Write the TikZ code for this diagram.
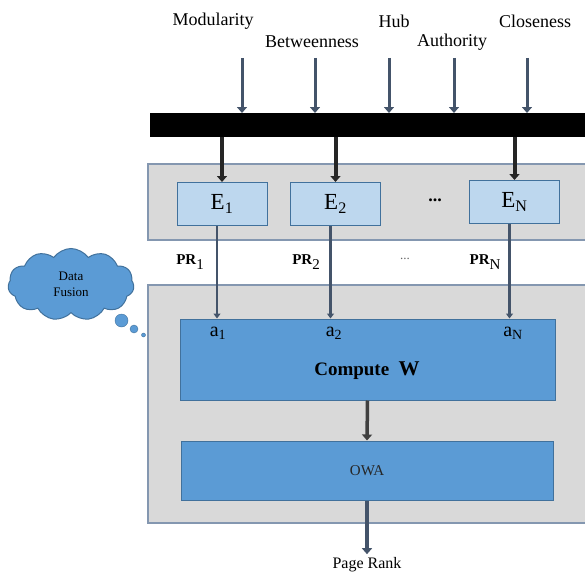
\documentclass[tikz,border=0pt]{standalone}
\usepackage{fontspec}
\setmainfont{Liberation Serif}
\usetikzlibrary{shapes.symbols}
\usetikzlibrary{arrows.meta}

\definecolor{panelgray}{HTML}{D9D9D9}
\definecolor{panelline}{HTML}{8497B0}
\definecolor{lightblue}{HTML}{BDD7EE}
\definecolor{midblue}{HTML}{5B9BD5}
\definecolor{boxline}{HTML}{41719C}
\definecolor{slate}{HTML}{44546A}

\begin{document}
\begin{tikzpicture}[x=1pt, y=-1pt,
  panel/.style={draw=panelline, fill=panelgray, line width=1.2pt},
  ebox/.style={draw=boxline, fill=lightblue, line width=1pt, minimum width=90pt, minimum height=43pt, font=\fontsize{23}{25}\selectfont},
  wbox/.style={draw=boxline, fill=midblue, line width=1pt},
  inlabel/.style={font=\fontsize{18}{20}\selectfont},
  prlabel/.style={font=\bfseries\fontsize{15}{17}\selectfont},
  inarrow/.style={slate, line width=3pt, -{Triangle[length=6,width=10]}},
  feed/.style={black!85, line width=4pt, -{Triangle[length=6,width=10]}},
  prline/.style={slate, line width=2.2pt, -{Triangle[length=5,width=7]}}]
\useasboundingbox (0,0) rectangle (585,575);

\draw[panel] (148,164) rectangle (592,240);
\draw[panel] (148,285) rectangle (592,523);
\node[fill=black, inner sep=0, minimum width=440pt, minimum height=24pt, anchor=north west] (bar) at (150,113) {};

\node[inlabel] (mod) at (213,21) {Modularity};
\node[inlabel] (bet) at (312,42) {Betweenness};
\node[inlabel] (hub) at (394,21) {Hub};
\node[inlabel] (aut) at (452,42) {Authority};
\node[inlabel] (clo) at (535,21) {Closeness};
\foreach\x [count=\i] in {242,315,389,454,527}{
  \coordinate (in\i) at (\x,58);
  \draw[inarrow] (in\i) -- (in\i |- bar.north);
}

\node[ebox] (e1) at (222,204) {E\textsubscript{1}};
\node[ebox] (e2) at (335.5,204) {E\textsubscript{2}};
\node[ebox] (eN) at (514.5,202) {E\textsubscript{N}};
\node[font=\bfseries\fontsize{18}{20}\selectfont] (edots) at (435,200) {...};
\foreach\e in {e1,e2,eN}
  \draw[feed] (\e |- bar.south) -- (\e.north);

\node[wbox, minimum width=375pt, minimum height=81pt] (cw) at (367.5,359.5) {};
\node[font=\bfseries\fontsize{19}{21}\selectfont] (cwtext) at (367,371) {Compute\enspace{\fontsize{21}{23}\selectfont W}};
\node[wbox, minimum width=372pt, minimum height=59pt, text=black!85, font=\fontsize{15}{17}\selectfont] (owa) at (367,470.5) {OWA};

\foreach\e/\a/\ax/\sub in {e1/a1/218/1,e2/a2/334/2,eN/aN/513/N}{
  \node[font=\fontsize{20}{22}\selectfont] (\a) at (\ax,333) {a\textsubscript{\sub}};
  \draw[prline] ([xshift=-5pt]\e.south) -- ([xshift=-5pt]\e.south |- cw.north);
}
\node[prlabel] (pr1) at (190,262) {PR\raisebox{-5pt}{\mdseries 1}};
\node[prlabel] (pr2) at (306,262) {PR\raisebox{-5pt}{\mdseries 2}};
\node[prlabel] (prN) at (485,262) {PR\raisebox{-5pt}{\mdseries N}};
\node[black!60, font=\fontsize{13}{15}\selectfont] (prdots) at (405,259) {...};

\draw[black!75, line width=3.5pt, -{Triangle[length=6,width=10]}] (cw.south) -- (owa.north);
\node[font=\fontsize{16}{18}\selectfont] (pagerank) at (367,565) {Page Rank};
\draw[slate, line width=3.5pt, -{Triangle[length=6,width=10]}] (owa.south) -- (pagerank.north);

\node[cloud, cloud puffs=11, cloud puff arc=110, aspect=1.7, draw=boxline, fill=midblue, line width=1pt,
  minimum width=126pt, minimum height=72pt, align=center, font=\fontsize{13}{16}\selectfont] (fusion) at (71,284.5) {Data\\Fusion};
\fill[midblue, draw=boxline] (121.5,320.5) circle (6.5);
\fill[midblue, draw=boxline] (134,329) circle (4);
\fill[midblue, draw=boxline] (143.5,335) circle (2);
\end{tikzpicture}
\end{document}
